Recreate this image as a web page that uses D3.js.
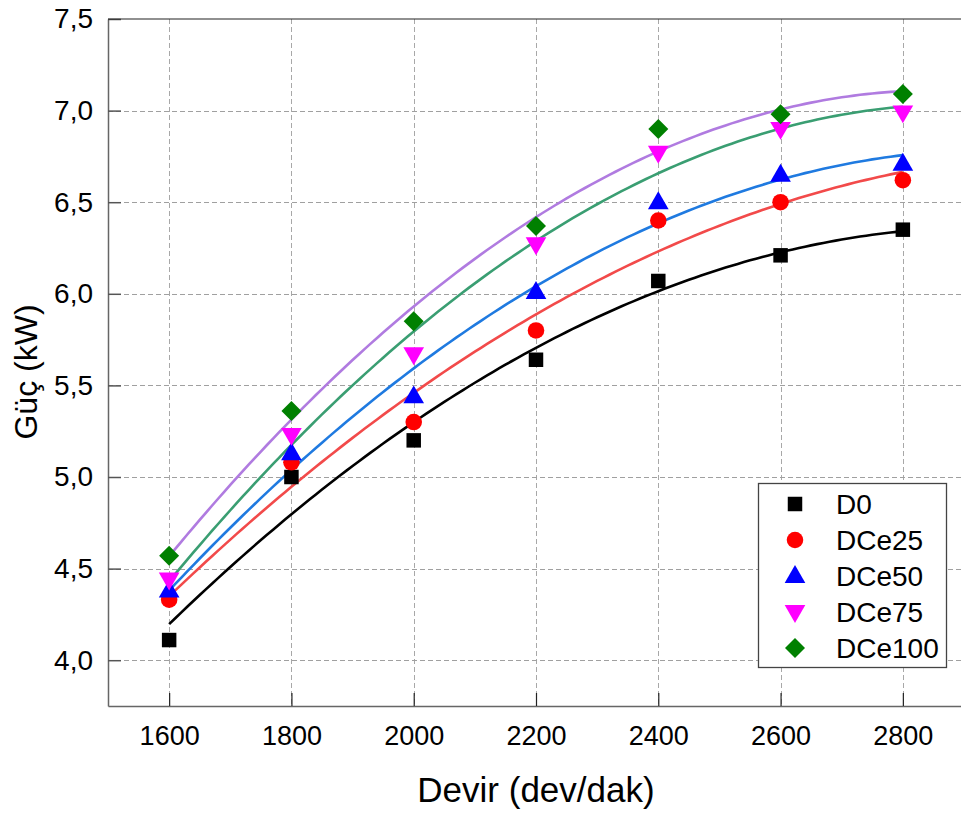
<!DOCTYPE html>
<html>
<head>
<meta charset="utf-8">
<script src="https://cdn.jsdelivr.net/npm/d3@7"></script>
<style>
  html, body { margin: 0; padding: 0; background: #fff; }
  svg { display: block; font-family: Arial, "Liberation Sans", sans-serif; }
</style>
</head>
<body>
<svg id="chart" width="961" height="813"></svg>
<script>
// Engine speed (rpm) and power output (kW) per fuel blend
const speeds = [1600, 1800, 2000, 2200, 2400, 2600, 2800];
const seriesNames = ["D0", "DCe25", "DCe50", "DCe75", "DCe100"];
const powerD0     = [4.11, 5.00, 5.20, 5.64, 6.07, 6.21, 6.35];
const powerDCe25  = [4.33, 5.08, 5.30, 5.80, 6.40, 6.50, 6.62];
const powerDCe50  = [4.38, 5.13, 5.44, 6.01, 6.50, 6.65, 6.71];
const powerDCe75  = [4.44, 5.23, 5.67, 6.27, 6.77, 6.90, 6.99];
const powerDCe100 = [4.57, 5.36, 5.85, 6.37, 6.90, 6.98, 7.09];
const xTicks = [1600, 1800, 2000, 2200, 2400, 2600, 2800];
const yTicks = [4.0, 4.5, 5.0, 5.5, 6.0, 6.5, 7.0, 7.5];

const markerColors = ["#000000", "#ff0000", "#0000ff", "#ff00ff", "#008000"];
const markerShapes = ["square", "circle", "up", "down", "diamond"];
const fitColors = ["#000000", "#f24a4a", "#1f7ae0", "#3a9e72", "#b07be0"];

const values = [powerD0, powerDCe25, powerDCe50, powerDCe75, powerDCe100];

(function draw() {
const svg = d3.select("#chart");
const pLeft = 108, pRight = 964, pTop = 19, pBottom = 706;

const x = d3.scaleLinear().domain([1500, 2900]).range([pLeft, pRight]);
const y = d3.scaleLinear().domain([3.75, 7.5]).range([pBottom, pTop]);

const fmt = v => d3.format(".1f")(v).replace(".", ",");

// grid
const grid = svg.append("g");
grid.selectAll("line.gx").data(xTicks).join("line")
  .attr("x1", d => Math.round(x(d)) + 0.5).attr("x2", d => Math.round(x(d)) + 0.5)
  .attr("y1", pTop).attr("y2", pBottom)
  .attr("stroke", "#a8a8a8").attr("stroke-width", 1).attr("stroke-dasharray", "5,3");
grid.selectAll("line.gy").data(yTicks.slice(0, -1)).join("line")
  .attr("x1", pLeft).attr("x2", pRight)
  .attr("y1", d => Math.round(y(d)) + 0.5).attr("y2", d => Math.round(y(d)) + 0.5)
  .attr("stroke", "#a0a0a0").attr("stroke-width", 1).attr("stroke-dasharray", "5,3");

// axes with inward ticks
const xAxis = svg.append("g").attr("transform", `translate(0,${pBottom})`)
  .call(d3.axisBottom(x).tickValues(xTicks).tickSizeInner(-13).tickSizeOuter(0).tickPadding(20).tickFormat(d3.format("d")));
xAxis.select(".domain").attr("stroke", "#666").attr("stroke-width", 1.5);
xAxis.selectAll(".tick line").attr("stroke", "#222").attr("stroke-width", 1.2);
xAxis.selectAll(".tick text").attr("font-size", 27).attr("fill", "#000")
  .attr("font-family", "Arial, 'Liberation Sans', sans-serif");

const yAxis = svg.append("g").attr("transform", `translate(${pLeft},0)`)
  .call(d3.axisLeft(y).tickValues(yTicks).tickSizeInner(-13).tickSizeOuter(0).tickPadding(15).tickFormat(fmt));
yAxis.select(".domain").attr("stroke", "#666").attr("stroke-width", 1.5);
yAxis.selectAll(".tick line").attr("stroke", "#555").attr("stroke-width", 1.5);
yAxis.selectAll(".tick text").attr("font-size", 28).attr("fill", "#000")
  .attr("font-family", "Arial, 'Liberation Sans', sans-serif");

// top frame line
svg.append("line").attr("x1", pLeft).attr("x2", pRight).attr("y1", pTop).attr("y2", pTop)
  .attr("stroke", "#222").attr("stroke-width", 1.2);

// least-squares quadratic trend for each series
function quadFit(xs, ys) {
  const xm = d3.mean(xs);
  const u = xs.map(v => (v - xm) / 1000);
  const s = [0, 0, 0, 0, 0], t = [0, 0, 0];
  u.forEach((ui, i) => {
    for (let k = 0; k < 5; k++) s[k] += Math.pow(ui, k);
    for (let k = 0; k < 3; k++) t[k] += ys[i] * Math.pow(ui, k);
  });
  const A = [[s[0], s[1], s[2], t[0]], [s[1], s[2], s[3], t[1]], [s[2], s[3], s[4], t[2]]];
  for (let i = 0; i < 3; i++) {
    for (let j = i + 1; j < 3; j++) {
      const f = A[j][i] / A[i][i];
      for (let k = i; k < 4; k++) A[j][k] -= f * A[i][k];
    }
  }
  const c = [0, 0, 0];
  for (let i = 2; i >= 0; i--) {
    let acc = A[i][3];
    for (let k = i + 1; k < 3; k++) acc -= A[i][k] * c[k];
    c[i] = acc / A[i][i];
  }
  return v => { const w = (v - xm) / 1000; return c[0] + c[1] * w + c[2] * w * w; };
}

const line = d3.line().x(d => x(d[0])).y(d => y(d[1]));
const fitXs = d3.range(1600, 2800.1, 10);
values.forEach((vals, i) => {
  const f = quadFit(speeds, vals);
  svg.append("path")
    .datum(fitXs.map(v => [v, f(v)]))
    .attr("d", line).attr("fill", "none")
    .attr("stroke", fitColors[i]).attr("stroke-width", 2.6);
});

// marker glyphs: path + extra transform
const glyph = {
  square:  { d: d3.symbol().type(d3.symbolSquare).size(210)(),  t: "" },
  circle:  { d: d3.symbol().type(d3.symbolCircle).size(215)(),  t: "" },
  up:      { d: d3.symbol().type(d3.symbolTriangle).size(185)(), t: " translate(0,1)" },
  down:    { d: d3.symbol().type(d3.symbolTriangle).size(185)(), t: " translate(0,-1) rotate(180)" },
  diamond: { d: d3.symbol().type(d3.symbolSquare).size(200)(),  t: " rotate(45)" }
};

values.forEach((vals, i) => {
  const g = glyph[markerShapes[i]];
  svg.append("g").selectAll("path").data(vals.map((v, j) => [speeds[j], v])).join("path")
    .attr("transform", d => `translate(${x(d[0])},${y(d[1])})${g.t}`)
    .attr("d", g.d)
    .attr("fill", markerColors[i]);
});

// legend
const lg = svg.append("g");
lg.append("rect").attr("x", 758.5).attr("y", 483.5).attr("width", 188).attr("height", 184)
  .attr("fill", "#fff").attr("stroke", "#444").attr("stroke-width", 1.3);
const rowY = [504, 540, 576, 612, 648];
seriesNames.forEach((name, i) => {
  const g = glyph[markerShapes[i]];
  lg.append("path")
    .attr("transform", `translate(795,${rowY[i]})${g.t}`)
    .attr("d", g.d)
    .attr("fill", markerColors[i]);
  lg.append("text").attr("x", 836).attr("y", rowY[i]).attr("dy", "0.36em")
    .attr("font-size", 28).attr("fill", "#000").text(name);
});

// axis titles
svg.append("text").attr("x", 536).attr("y", 802)
  .attr("text-anchor", "middle").attr("font-size", 35).attr("fill", "#000")
  .text("Devir (dev/dak)");
svg.append("text").attr("transform", "translate(37,372) rotate(-90)")
  .attr("text-anchor", "middle").attr("font-size", 32).attr("fill", "#000")
  .text("Güç (kW)");
})();
</script>
</body>
</html>
